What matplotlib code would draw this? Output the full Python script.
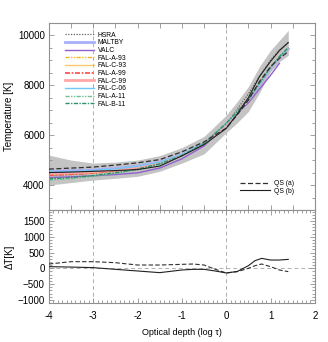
import numpy as np
import matplotlib
matplotlib.use("Agg")
import matplotlib.pyplot as plt
from matplotlib.ticker import MultipleLocator

plt.rcParams['font.family'] = ['Liberation Sans', 'DejaVu Sans']

# ---------------- data ----------------
logtau = [-4.0, -3.5, -3.0, -2.5, -2.0, -1.5, -1.0, -0.5, 0.0, 0.25, 0.5, 0.75, 1.0, 1.2, 1.4]

band_low = [4000, 4100, 4200, 4270, 4350, 4550, 4880, 5250, 6100, 6500, 6950, 7700, 8550, 8950, 9200]
band_high = [5200, 5000, 4880, 4920, 5000, 5180, 5500, 5950, 6800, 7350, 7950, 8750, 9400, 9800, 10200]

model_names = ['HSRA', 'MALTBY', 'VALC', 'FAL-A-93', 'FAL-C-93', 'FAL-A-99',
               'FAL-C-99', 'FAL-C-06', 'FAL-A-11', 'FAL-B-11']

T_hsra = [4400, 4420, 4480, 4580, 4700, 4880, 5180, 5640, 6420, 7050, 7650, 8350, 9000, 9420, 9720]
T_maltby = [4550, 4570, 4600, 4660, 4760, 4930, 5220, 5660, 6450, 6930, 7400, 8020, 8650, 9080, 9450]
T_valc = [4300, 4330, 4370, 4420, 4490, 4680, 5050, 5570, 6420, 6880, 7300, 7850, 8400, 8880, np.nan]
T_fala93 = [4420, 4440, 4480, 4560, 4680, 4870, 5180, 5650, 6450, 6930, 7400, 8050, 8700, 9130, 9480]
T_falc93 = [4450, 4470, 4510, 4590, 4700, 4890, 5200, 5650, 6450, 6930, 7400, 8050, 8700, 9130, 9480]
T_fala99 = [4400, 4430, 4480, 4570, 4690, 4880, 5190, 5660, 6440, 6940, 7410, 8050, 8680, 9100, 9450]
T_falc99 = [4470, 4490, 4530, 4610, 4720, 4900, 5210, 5660, 6440, 6940, 7410, 8050, 8680, 9100, 9450]
T_falc06 = [4520, 4540, 4580, 4650, 4750, 4920, 5230, 5680, 6460, 6930, 7400, 8030, 8670, 9100, 9460]
T_fala11 = [4200, 4260, 4350, 4470, 4620, 4830, 5170, 5660, 6460, 6950, 7430, 8070, 8710, 9140, 9500]
T_falb11 = [4250, 4300, 4380, 4490, 4640, 4850, 5180, 5670, 6470, 6960, 7440, 8080, 8720, 9150, 9510]

T_qs_a = [4640, 4680, 4720, 4800, 4890, 5020, 5330, 5730, 6280, 6820, 7400, 8150, 8750, 9080, 9350]
T_qs_b = [4500, 4520, 4550, 4580, 4620, 4760, 5170, 5620, 6270, 6850, 7500, 8350, 8960, 9390, 9710]

logtau_dt = [-4.0, -3.5, -3.0, -2.5, -2.0, -1.5, -1.0, -0.75, -0.5, -0.25, 0.0, 0.25,
             0.5, 0.65, 0.8, 1.0, 1.2, 1.4]
dT_a = [137, 211, 211, 179, 105, 105, 126, 137, 105, -30, -147, -105,
        0, 84, 137, 53, -53, -105]
dT_b = [53, 40, 22, -32, -84, -137, -53, -32, -32, -84, -147, -100,
        84, 242, 316, 263, 263, 284]

xticks = [-4, -3, -2, -1, 0, 1, 2]
yticks_T = [4000, 6000, 8000, 10000]
yticks_dT = [-1000, -500, 0, 500, 1000, 1500]

# ---------------- styles ----------------
styles = {
    'HSRA': dict(color='#606060', ls=(0, (1, 1.2)), lw=0.9),
    'MALTBY': dict(color='#a8b0f8', ls='-', lw=2.0),
    'VALC': dict(color='#9060d0', ls='-', lw=1.0),
    'FAL-A-93': dict(color='#f0b820', ls=(0, (3, 1, 1, 1, 1, 1)), lw=1.0),
    'FAL-C-93': dict(color='#f8c870', ls='-', lw=1.0),
    'FAL-A-99': dict(color='#ff4848', ls=(0, (3, 1, 1, 1)), lw=1.2),
    'FAL-C-99': dict(color='#ffa8a8', ls='-', lw=2.0),
    'FAL-C-06': dict(color='#70c8f8', ls='-', lw=1.0),
    'FAL-A-11': dict(color='#70c090', ls=(0, (3, 1, 1, 1, 1, 1)), lw=1.0),
    'FAL-B-11': dict(color='#30906a', ls=(0, (3, 1, 1, 1)), lw=1.0),
}
model_T = [T_hsra, T_maltby, T_valc, T_fala93, T_falc93, T_fala99,
           T_falc99, T_falc06, T_fala11, T_falb11]

spine_col = '#909090'

fig = plt.figure(figsize=(3.28, 3.42), dpi=100)
ax1 = fig.add_axes([0.149, 0.386, 0.811, 0.547])
ax2 = fig.add_axes([0.149, 0.114, 0.811, 0.272])

# top panel
ax1.fill_between(logtau, band_low, band_high, color='#c4c4c4', lw=0, zorder=1)
for xv in [-3, 0]:
    ax1.axvline(xv, color='#b0b0b0', ls=(0, (4, 3)), lw=0.7, zorder=0.5)
lines = []
for name, T in zip(model_names, model_T):
    st = styles[name]
    l, = ax1.plot(logtau, T, color=st['color'], ls=st['ls'], lw=st['lw'], zorder=2, label=name)
    lines.append(l)
la, = ax1.plot(logtau, T_qs_a, color='#303030', ls=(0, (4, 2)), lw=0.9, zorder=3, label='QS (a)')
lb, = ax1.plot(logtau, T_qs_b, color='#202020', ls='-', lw=0.8, zorder=3, label='QS (b)')

leg1 = ax1.legend(handles=lines, loc='upper left', bbox_to_anchor=(0.045, 0.975),
                  frameon=False, fontsize=4.9, handlelength=4.2, handletextpad=0.6,
                  labelspacing=0.1, borderaxespad=0.2)
ax1.add_artist(leg1)
ax1.legend(handles=[la, lb], loc='lower right', bbox_to_anchor=(0.935, 0.06),
           frameon=False, fontsize=4.9, handlelength=4.4, handletextpad=0.5,
           labelspacing=0.1, borderaxespad=0.2)

ax1.set_xlim(-4, 2)
ax1.set_ylim(3000, 10500)
ax1.set_yticks(yticks_T)
ax1.yaxis.set_minor_locator(MultipleLocator(500))
ax1.xaxis.set_major_locator(MultipleLocator(0.5))
ax1.tick_params(axis='x', labelbottom=False)
ax1.set_ylabel('Temperature [K]', fontsize=7)
ax1.yaxis.set_label_coords(-0.13, 0.5)

# bottom panel
for xv in [-3, 0]:
    ax2.axvline(xv, color='#b0b0b0', ls=(0, (4, 3)), lw=0.7, zorder=0.5)
ax2.axhline(0, color='#b0b0b0', ls=(0, (4, 3)), lw=0.7, zorder=0.5)
ax2.plot(logtau_dt, dT_a, color='#303030', ls=(0, (4, 2)), lw=0.8, zorder=3)
ax2.plot(logtau_dt, dT_b, color='#202020', ls='-', lw=0.8, zorder=3)
ax2.set_xlim(-4, 2)
ax2.set_ylim(-1100, 1850)
ax2.set_xticks(xticks)
ax2.set_xticklabels([str(v) for v in xticks])
ax2.xaxis.set_minor_locator(MultipleLocator(0.1))
ax2.set_yticks(yticks_dT)
ax2.yaxis.set_minor_locator(MultipleLocator(100))
ax2.set_ylabel('ΔT[K]', fontsize=7)
ax2.yaxis.set_label_coords(-0.13, 0.5)
ax2.set_xlabel('Optical depth (log τ)', fontsize=6.5, labelpad=5)

for ax in (ax1, ax2):
    for sp in ax.spines.values():
        sp.set_color(spine_col)
        sp.set_linewidth(0.8)
    ax.tick_params(which='both', direction='in', top=True, right=True,
                   color=spine_col, width=0.6, labelsize=7, pad=3)
    ax.tick_params(which='major', length=3.5)
    ax.tick_params(which='minor', length=2)
ax2.tick_params(axis='x', which='major', pad=6)

fig.savefig('out.png', dpi=100)
